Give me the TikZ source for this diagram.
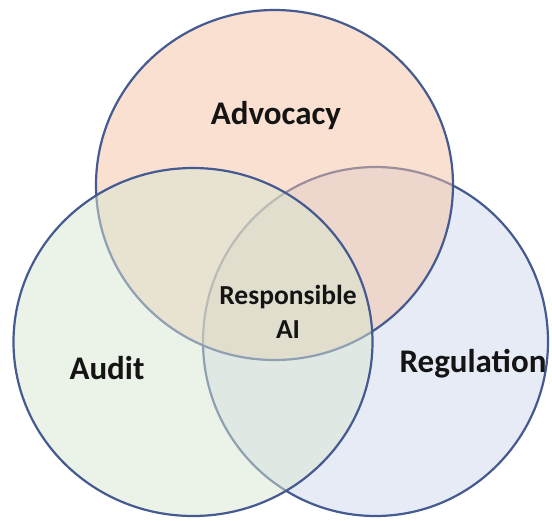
\documentclass[tikz,border=0pt]{standalone}
\usepackage{fontspec}
\setmainfont{Carlito}
\definecolor{edge}{RGB}{68,90,145}
\definecolor{peach}{RGB}{245,195,165}
\definecolor{mint}{RGB}{217,231,209}
\definecolor{sky}{RGB}{207,217,237}
\begin{document}
\begin{tikzpicture}[x=0.5pt,y=-0.5pt,
  ring/.style={draw=edge,line width=1.1pt,fill opacity=0.5},
  big/.style={font=\fontsize{16.5}{20}\selectfont\bfseries,text=black!92},
  small/.style={font=\fontsize{13.75}{17}\selectfont\bfseries,text=black!92,align=center}]
\useasboundingbox (0,0) rectangle (552,520);
\fill[white] (0,0) rectangle (552,520);
\draw[ring,fill=sky] (375.5,341.5) ellipse [x radius=172.5, y radius=174.5];
\draw[ring,fill=peach] (274.5,185) ellipse [x radius=178.5, y radius=175];
\draw[ring,fill=mint] (193,342) ellipse [x radius=179.5, y radius=174];
\node[big] (adv) at (276,116) {Advocacy};
\node[big] (aud) at (107,368) {Audit};
\node[big] (reg) at (473,364) {Regulation};
\node[small] (rai) at (288,312) {Responsible\\AI};
\end{tikzpicture}
\end{document}
